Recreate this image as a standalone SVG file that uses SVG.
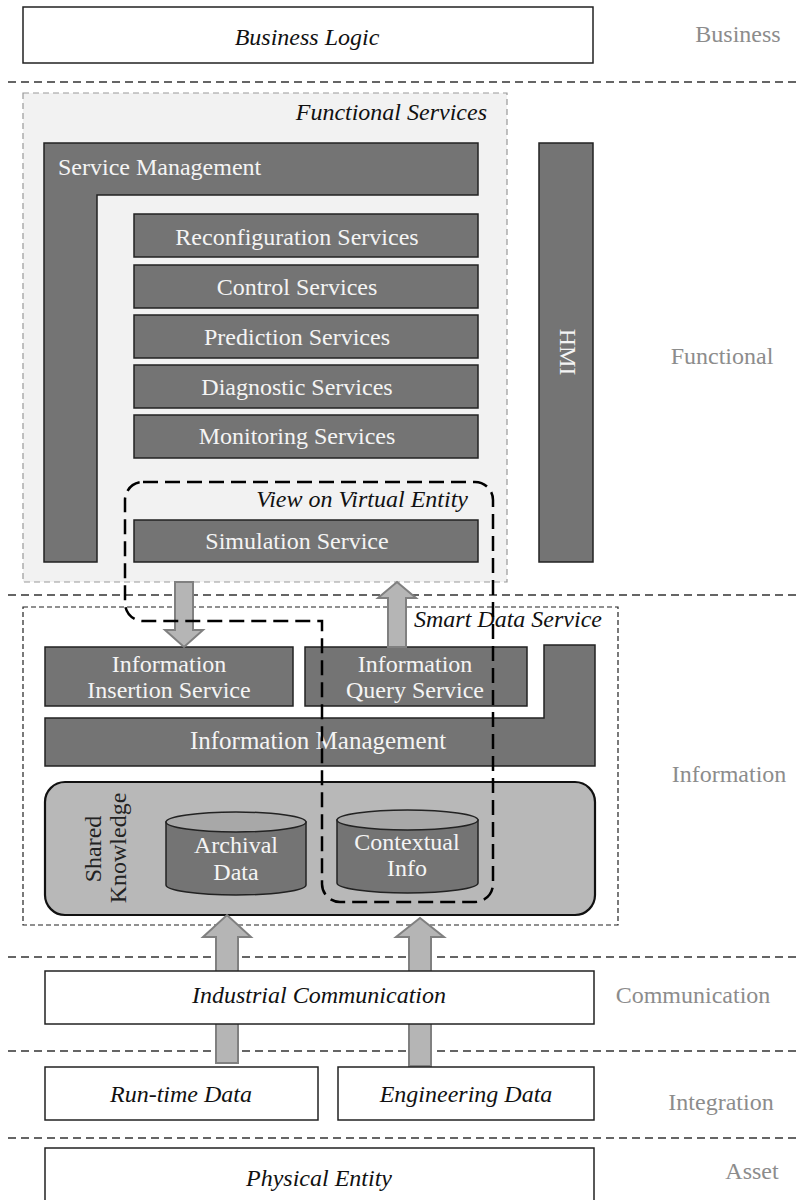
<svg xmlns="http://www.w3.org/2000/svg" width="798" height="1200" viewBox="0 0 798 1200">
<style>
text{font-family:"Liberation Serif","Times New Roman",serif;font-size:24px}
.it{font-style:italic;fill:#111}
.wt{fill:#f4f4f4;text-anchor:middle}
.lay{fill:#8c8c8c;text-anchor:middle}
.mid{text-anchor:middle}
.end{text-anchor:end}
.wbox{fill:#fff;stroke:#222;stroke-width:1.5}
.dbox{fill:#747474;stroke:#222;stroke-width:1.5}
.sep{stroke:#333;stroke-width:1.4;stroke-dasharray:8,5;fill:none}
.arr{fill:#b5b5b5;stroke:#808080;stroke-width:2}
.cylb{fill:#747474;stroke:#222;stroke-width:1.5}
.cylt{fill:#a8a8a8;stroke:#222;stroke-width:1.5}
</style>

<g id="separators">
<line class="sep" x1="8" y1="82" x2="798" y2="82"/>
<line class="sep" x1="8" y1="595" x2="798" y2="595"/>
<line class="sep" x1="8" y1="957" x2="798" y2="957"/>
<line class="sep" x1="8" y1="1051" x2="798" y2="1051"/>
<line class="sep" x1="8" y1="1138" x2="798" y2="1138"/>
</g>

<g id="layer-labels">
<text class="lay" x="738" y="42">Business</text>
<text class="lay" x="722" y="364">Functional</text>
<text class="lay" x="729" y="782">Information</text>
<text class="lay" x="693" y="1003">Communication</text>
<text class="lay" x="721" y="1110">Integration</text>
<text class="lay" x="752" y="1179">Asset</text>
</g>

<g id="business-logic">
<rect class="wbox" x="23" y="7" width="570" height="56"/>
<text class="it mid" x="307" y="45">Business Logic</text>
</g>

<g id="functional-services">
<rect x="23" y="93" width="484" height="489" fill="#f2f2f2" stroke="#999" stroke-width="1.2" stroke-dasharray="6,4"/>
<text class="it end" x="487" y="120">Functional Services</text>
</g>

<g id="service-management">
<path class="dbox" d="M44,143 H478 V195 H97 V562 H44 Z"/>
<text x="58" y="175" fill="#f4f4f4">Service Management</text>
</g>

<g id="hmi">
<rect class="dbox" x="539" y="143" width="54" height="419"/>
<text class="wt" transform="translate(560,352) rotate(90)">HMI</text>
</g>

<g id="reconfiguration-services">
<rect class="dbox" x="134" y="214" width="344" height="43"/>
<text class="wt" x="297" y="245">Reconfiguration Services</text>
</g>
<g id="control-services">
<rect class="dbox" x="134" y="265" width="344" height="43"/>
<text class="wt" x="297" y="295">Control Services</text>
</g>
<g id="prediction-services">
<rect class="dbox" x="134" y="315" width="344" height="43"/>
<text class="wt" x="297" y="345">Prediction Services</text>
</g>
<g id="diagnostic-services">
<rect class="dbox" x="134" y="365" width="344" height="43"/>
<text class="wt" x="297" y="395">Diagnostic Services</text>
</g>
<g id="monitoring-services">
<rect class="dbox" x="134" y="415" width="344" height="43"/>
<text class="wt" x="297" y="444">Monitoring Services</text>
</g>
<g id="simulation-service">
<rect class="dbox" x="134" y="520" width="344" height="42"/>
<text class="wt" x="297" y="549">Simulation Service</text>
</g>

<g id="smart-data-service">
<rect x="23" y="607" width="595" height="318" fill="none" stroke="#222" stroke-width="1.2" stroke-dasharray="5,3"/>
<text class="it end" x="602" y="627">Smart Data Service</text>
</g>

<g id="information-insertion-service">
<rect class="dbox" x="45" y="647" width="248" height="59"/>
<text class="wt" x="169" y="672">Information</text>
<text class="wt" x="169" y="698">Insertion Service</text>
</g>
<g id="information-query-service">
<rect class="dbox" x="305" y="647" width="222" height="59"/>
<text class="wt" x="415" y="672">Information</text>
<text class="wt" x="415" y="698">Query Service</text>
</g>
<g id="information-management">
<path class="dbox" d="M45,718 H544 V645 H595 V766 H45 Z"/>
<text class="wt" x="318" y="749" style="font-size:25px">Information Management</text>
</g>

<g id="shared-knowledge">
<rect x="45" y="782" width="550" height="133" rx="20" ry="20" fill="#b8b8b8" stroke="#111" stroke-width="2.2"/>
<text class="mid" fill="#222" transform="translate(101,849) rotate(-90)">Shared</text>
<text class="mid" fill="#222" transform="translate(126,848) rotate(-90)">Knowledge</text>
</g>

<g id="archival-data">
<path class="cylb" d="M166,822 V885 A70,10 0 0 0 306,885 V822 Z"/>
<ellipse class="cylt" cx="236" cy="822" rx="70" ry="10"/>
<text class="wt" x="236" y="853">Archival</text>
<text class="wt" x="236" y="880">Data</text>
</g>
<g id="contextual-info">
<path class="cylb" d="M337,820 V883 A70.5,10 0 0 0 478,883 V820 Z"/>
<ellipse class="cylt" cx="407.5" cy="820" rx="70.5" ry="10"/>
<text class="wt" x="407" y="850">Contextual</text>
<text class="wt" x="407" y="876">Info</text>
</g>

<g id="connectors">
<path class="arr" d="M175,582 H193 V630 H203 L184,647 L165,630 H175 Z"/>
<path class="arr" d="M388,647 H406 V598 H416 L397,582 L378,598 H388 Z"/>
<path class="arr" d="M216,1063 H238 V937 H251 L227,915 L203,937 H216 Z"/>
<path class="arr" d="M409,1066 H431 V937 H444 L420,918 L396,937 H409 Z"/>
</g>

<g id="industrial-communication">
<rect class="wbox" x="45" y="971" width="549" height="53"/>
<text class="it mid" x="319" y="1003">Industrial Communication</text>
</g>
<g id="run-time-data">
<rect class="wbox" x="45" y="1067" width="273" height="53"/>
<text class="it mid" x="181" y="1102">Run-time Data</text>
</g>
<g id="engineering-data">
<rect class="wbox" x="338" y="1067" width="256" height="53"/>
<text class="it mid" x="466" y="1102">Engineering Data</text>
</g>
<g id="physical-entity">
<rect class="wbox" x="45" y="1148" width="549" height="60"/>
<text class="it mid" x="319" y="1186">Physical Entity</text>
</g>

<g id="view-on-virtual-entity">
<path d="M143,482 H475 A18,18 0 0 1 493,500 V884 A18,18 0 0 1 475,902 H340 A18,18 0 0 1 322,884 V621 H143 A18,18 0 0 1 125,603 V500 A18,18 0 0 1 143,482 Z" fill="none" stroke="#000" stroke-width="2.5" stroke-dasharray="15,7"/>
<text class="it end" x="468" y="507">View on Virtual Entity</text>
</g>
</svg>
